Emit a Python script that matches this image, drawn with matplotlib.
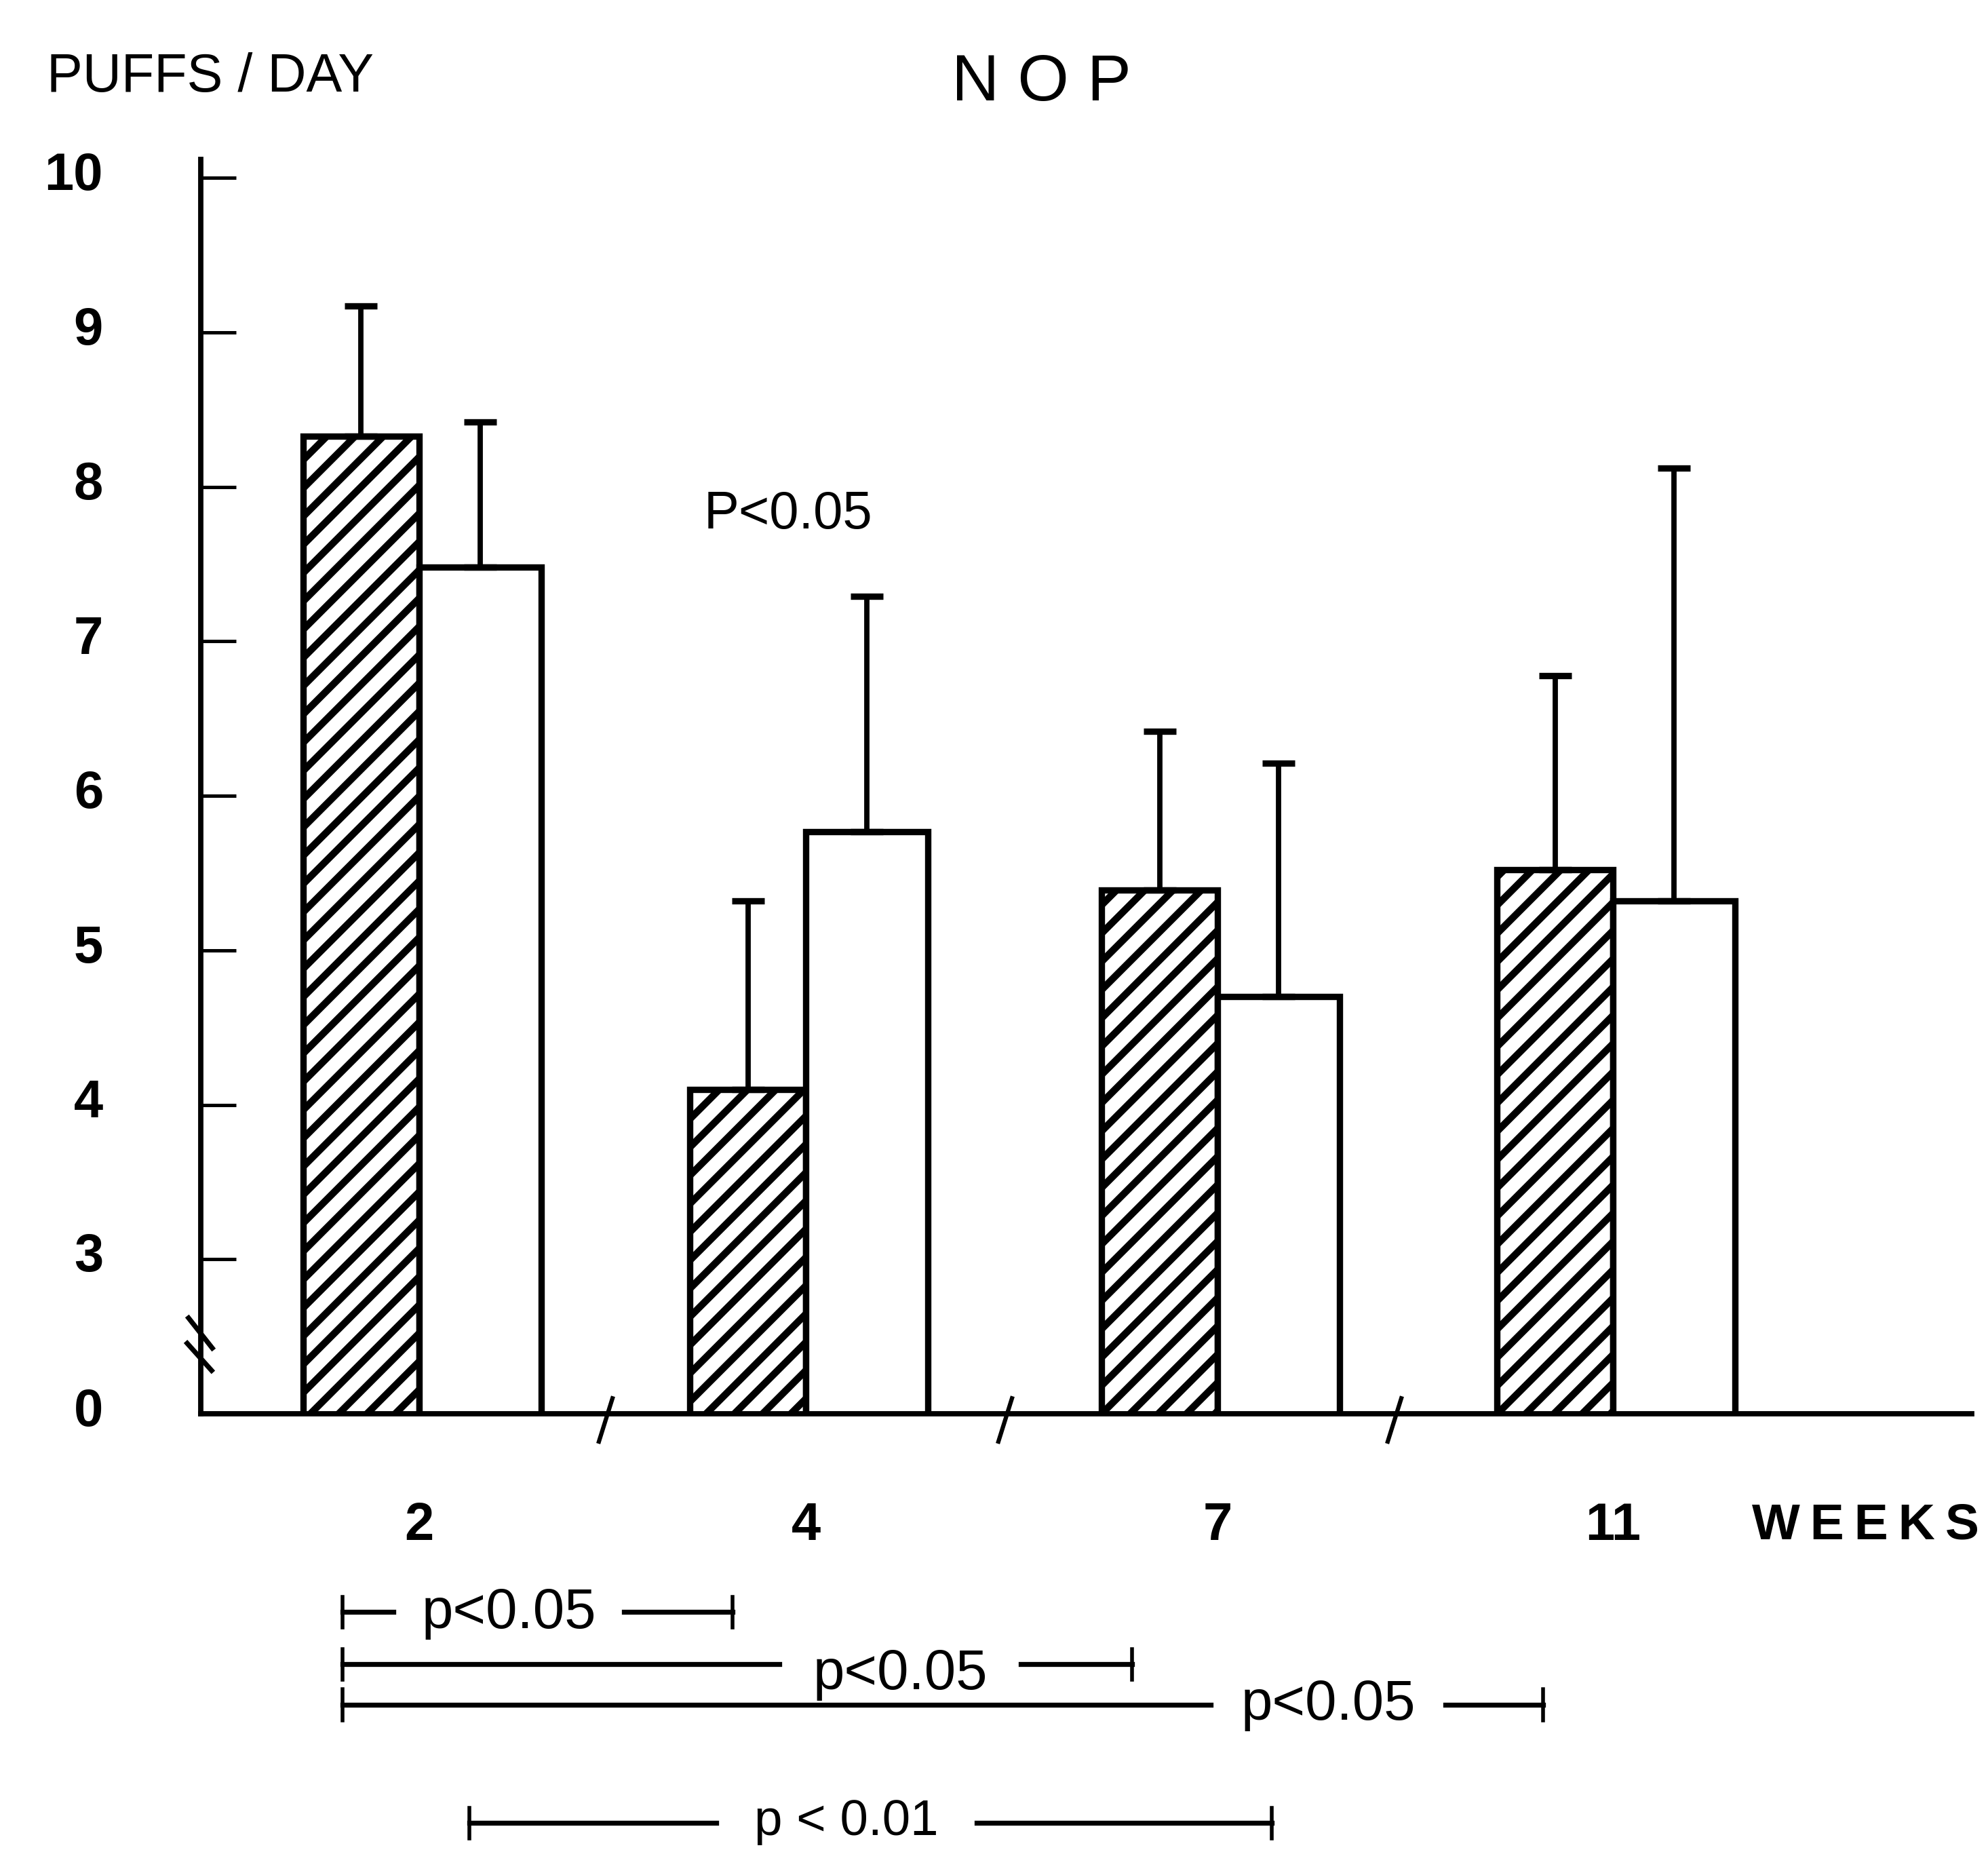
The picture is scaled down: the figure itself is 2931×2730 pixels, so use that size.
import numpy as np
import matplotlib.pyplot as plt
from matplotlib.transforms import ScaledTranslation

plt.rcParams['font.family'] = ['Liberation Sans', 'DejaVu Sans']
plt.rcParams['hatch.linewidth'] = 3.0
plt.rcParams['hatch.color'] = 'black'

weeks = ["2", "4", "7", "11"]
# puffs/day, mean and SEM (upper bar only)
hatched_mean = [8.33, 4.10, 5.39, 5.52]
hatched_sem = [0.84, 1.22, 1.03, 1.26]
open_mean = [7.48, 5.77, 4.70, 5.32]
open_sem = [0.94, 1.52, 1.51, 2.80]

# broken axis: position 2 carries the "0" label
ytick_vals = [2, 3, 4, 5, 6, 7, 8, 9, 10]
ytick_labels = ["0", "3", "4", "5", "6", "7", "8", "9", "10"]

sig_labels = ["p<0.05", "p<0.05", "p<0.05", "p < 0.01"]

# layout (x in axis units, y in axis units below the baseline)
group_x = np.array([6.18, 11.88, 17.95, 23.78])
w_hatch = 1.71
w_open = 1.80
break_x = [8.93, 14.82, 20.56]
# start, end, line y, text x, half gap, text y, text size
bracket_pos = [(5.05, 10.80, 0.716, 7.50, 1.70, 0.707, 24),
               (5.05, 16.69, 0.378, 13.27, 1.78, 0.313, 24),
               (5.05, 22.75, 0.115, 19.58, 1.73, 0.115, 24),
               (6.92, 18.75, -0.650, 12.48, 1.92, -0.641, 21.5)]

fig = plt.figure(figsize=(2931 / 250, 2730 / 250), dpi=250)
ax = fig.add_axes([296 / 2931, (2730 - 2084) / 2730,
                   (2907 - 296) / 2931, (2084 - 235) / 2730])

err_kw = dict(elinewidth=2.25, capthick=2.7, ecolor='black')
ax.bar(group_x - w_hatch, hatched_mean, width=w_hatch, align='edge',
       color='white', edgecolor='black', linewidth=2.7, hatch='//',
       yerr=[np.zeros(4), hatched_sem], capsize=6.8, error_kw=err_kw)
ax.bar(group_x, open_mean, width=w_open, align='edge',
       color='white', edgecolor='black', linewidth=2.7,
       yerr=[np.zeros(4), open_sem], capsize=6.8, error_kw=err_kw)

ax.set_xlim(2.96, 29.07)
ax.set_ylim(2, 10.12)
ax.set_xticks([])
ax.set_yticks(ytick_vals, ytick_labels)
ax.tick_params(axis='y', direction='in', length=15, width=1.45, pad=41.5,
               labelsize=22.4)
for lab in ax.get_yticklabels():
    lab.set_fontweight('bold')
    lab.set_transform(lab.get_transform() +
                      ScaledTranslation(0, 3 / 72, fig.dpi_scale_trans))

for side in ['top', 'right']:
    ax.spines[side].set_visible(False)
for side in ['left', 'bottom']:
    ax.spines[side].set_linewidth(2.25)

# axis break marks
ax.plot([2.78, 3.13], [2.62, 2.425], color='black', lw=2.1, clip_on=False)
ax.plot([2.76, 3.12], [2.456, 2.28], color='black', lw=2.1, clip_on=False)
for bx in break_x:
    ax.plot([bx - 0.1, bx + 0.1], [1.82, 2.10], color='black', lw=1.8,
            clip_on=False)

for gx, w in zip(group_x, weeks):
    ax.text(gx, 1.274, w, ha='center', va='center', fontsize=22.4,
            fontweight='bold', clip_on=False)
ax.text(25.83, 1.274, "W\u2009E\u2009E\u2009K\u2009S", ha='left',
        va='center', fontsize=21.6, fontweight='bold', clip_on=False)

ax.text(11.62, 7.82, "P<0.05", ha='center', va='center', fontsize=22.4)

for (x0, x1, yb, tx, hg, ty, fs), lab in zip(bracket_pos, sig_labels):
    ax.plot([x0, tx - hg], [yb, yb], color='black', lw=2.1, clip_on=False)
    ax.plot([tx + hg, x1], [yb, yb], color='black', lw=2.1, clip_on=False)
    for xe in (x0, x1):
        ax.plot([xe, xe], [yb - 0.10, yb + 0.10], color='black', lw=1.6,
                clip_on=False)
    ax.text(tx, ty, lab, ha='center', va='center', fontsize=fs,
            clip_on=False)

fig.text(0.0235, 0.958, "PUFFS / DAY", ha='left', va='center', fontsize=22.8)
fig.text(0.524, 0.955, "N O P", ha='center', va='center', fontsize=28)

fig.savefig("out.png", dpi=250, facecolor='white')
